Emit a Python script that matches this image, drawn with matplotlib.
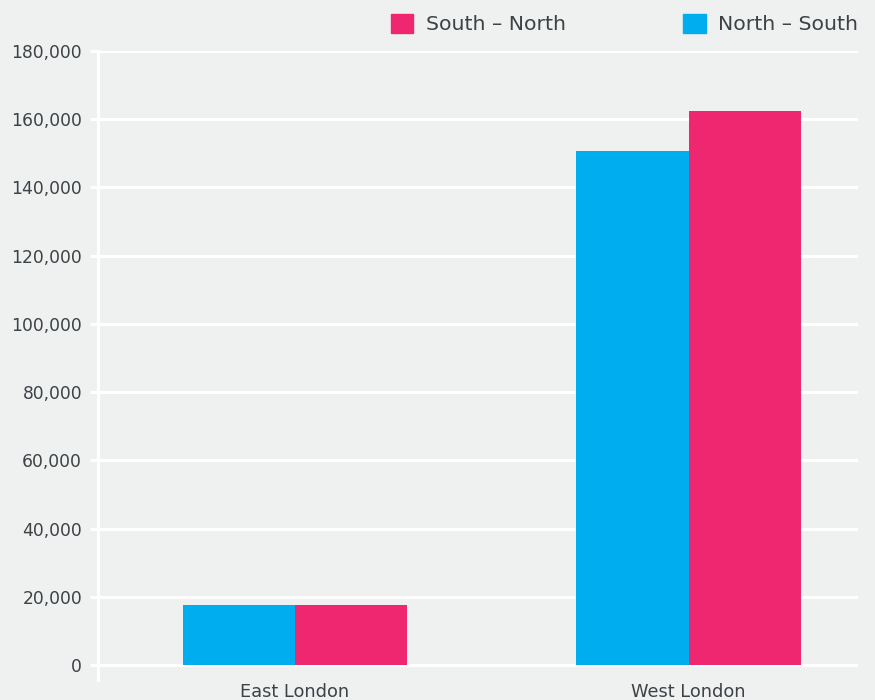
import matplotlib
matplotlib.use("Agg")
import matplotlib.pyplot as plt
from matplotlib.patches import Patch
import numpy as np

# values
regions = ["East London", "West London"]
north_south = [17700, 150800]
south_north = [17700, 162300]
y_ticks = list(range(0, 180001, 20000))

BG = "#eff0f0"
BLUE = "#00aeef"
PINK = "#ef2670"
TXT = "#3d4246"

plt.rcParams["font.family"] = ["DejaVu Sans"]

fig = plt.figure(figsize=(8.75, 7), dpi=100, facecolor=BG)
ax = fig.add_axes([98 / 875, 20 / 700, (858 - 98) / 875, (680 - 51) / 700])
ax.set_facecolor(BG)

x = np.arange(len(regions))
w = 0.285
ax.bar(x - w / 2, north_south, width=w, color=BLUE, zorder=3)
ax.bar(x + w / 2, south_north, width=w, color=PINK, zorder=3)

ax.set_xlim(-0.5, 1.43)
ax.set_ylim(-4400, 180000)
ax.set_yticks(y_ticks)
ax.set_yticklabels([f"{v:,}" for v in y_ticks])
ax.set_xticks(x)
ax.set_xticklabels(regions)

for v in y_ticks:
    ax.axhline(v, color="white", lw=2.2, zorder=1)

for s in ["top", "right", "bottom"]:
    ax.spines[s].set_visible(False)
ax.spines["left"].set_color("white")
ax.spines["left"].set_linewidth(2.2)

ax.tick_params(axis="y", colors="white", length=6, width=2.2, pad=5.5,
               labelcolor=TXT, labelsize=12.3)
ax.tick_params(axis="x", length=0, pad=2, labelcolor=TXT, labelsize=12.8)

handles = [Patch(color=PINK), Patch(color=BLUE)]
fig.legend(handles, ["South \u2013 North", "North \u2013 South"], ncol=2,
           loc="upper left", bbox_to_anchor=(391 / 875, 1 - 14 / 700),
           frameon=False, fontsize=14.7, labelcolor=TXT,
           handlelength=1.1, handleheight=1.05, handletextpad=0.6,
           columnspacing=5.75, borderpad=0, borderaxespad=0)

fig.savefig("out.png", dpi=100, facecolor=BG)
